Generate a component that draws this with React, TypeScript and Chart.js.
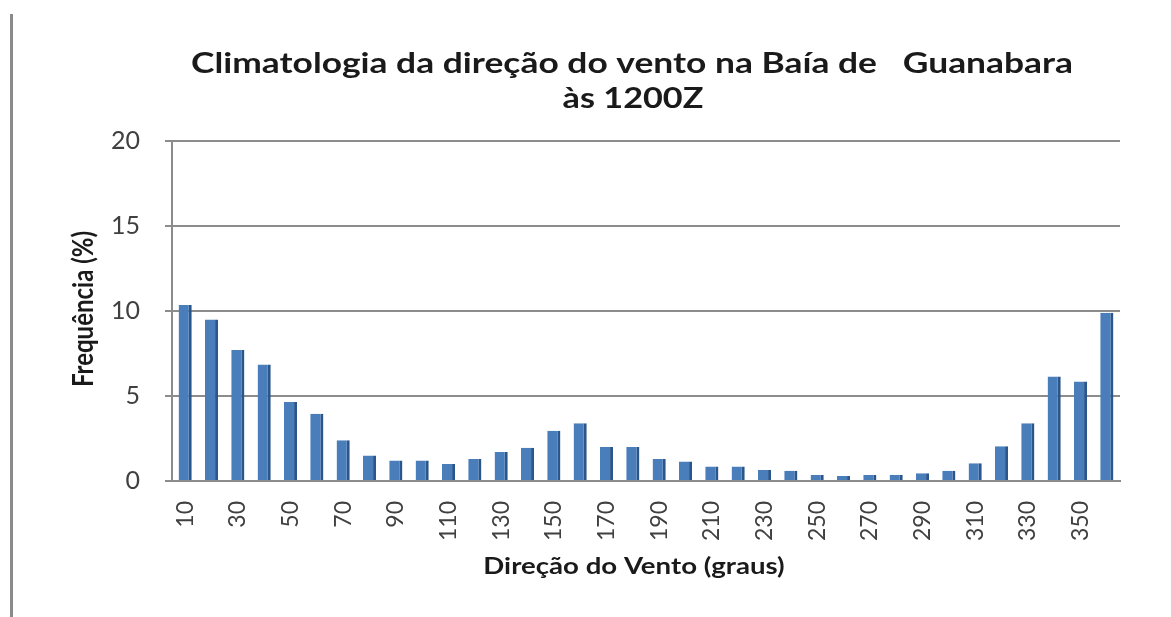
import React, { useEffect, useRef } from "react";
import { Chart, registerables } from "chart.js";

Chart.register(...registerables);

const directions = [
  "10", "20", "30", "40", "50", "60", "70", "80", "90", "100", "110", "120",
  "130", "140", "150", "160", "170", "180", "190", "200", "210", "220", "230", "240",
  "250", "260", "270", "280", "290", "300", "310", "320", "330", "340", "350", "360",
];

const frequencies = [
  10.35, 9.5, 7.7, 6.85, 4.65, 3.95, 2.4, 1.5, 1.2, 1.2, 1.0, 1.3,
  1.7, 1.95, 2.95, 3.4, 2.0, 2.0, 1.3, 1.15, 0.85, 0.85, 0.65, 0.6,
  0.35, 0.3, 0.35, 0.35, 0.45, 0.6, 1.05, 2.05, 3.4, 6.15, 5.85, 9.9,
];

const yMin = 0;
const yMax = 20;
const yStep = 5;

const titleLines = ["Climatologia da direção do vento na Baía de   Guanabara", "às 1200Z"];
const xTitle = "Direção do Vento (graus)";
const yTitle = "Frequência (%)";

const FONT = "Lato, 'Open Sans', 'DejaVu Sans', sans-serif";

function stretchedText(ctx: any, text: string, x: number, y: number, sx: number) {
  ctx.save();
  ctx.translate(x, y);
  ctx.scale(sx, 1);
  ctx.fillText(text, 0, 0);
  ctx.restore();
}

const textPlugin = {
  id: "customTexts",
  beforeDraw(chart: any) {
    const ctx = chart.ctx;
    ctx.save();
    ctx.fillStyle = "#ffffff";
    ctx.fillRect(0, 0, chart.width, chart.height);
    ctx.fillStyle = "#8a8a8a";
    ctx.fillRect(10, 14, 3, chart.height - 14);
    ctx.restore();
  },
  afterDraw(chart: any) {
    const ctx = chart.ctx;
    ctx.save();
    ctx.fillStyle = "#1a1a1a";
    ctx.textAlign = "center";
    ctx.textBaseline = "alphabetic";
    ctx.font = `bold 29px ${FONT}`;
    stretchedText(ctx, titleLines[0], 632, 73, 1.22);
    stretchedText(ctx, titleLines[1], 633, 108, 1.18);
    ctx.font = `bold 23px ${FONT}`;
    stretchedText(ctx, xTitle, 634, 574, 1.2);
    ctx.translate(93, 309);
    ctx.rotate(-Math.PI / 2);
    ctx.scale(1, 1.15);
    ctx.font = `bold 24px ${FONT}`;
    ctx.textBaseline = "alphabetic";
    ctx.fillText(yTitle, 0, 0);
    ctx.restore();
  },
};

export default function App() {
  const ref = useRef<HTMLCanvasElement | null>(null);

  useEffect(() => {
    if (!ref.current) return;
    const chart = new Chart(ref.current, {
      type: "bar",
      data: {
        labels: directions,
        datasets: [
          {
            data: frequencies,
            backgroundColor: "#4a7ebb",
            borderColor: "#2a568c",
            borderWidth: { top: 0, left: 0, right: 3, bottom: 0 },
            borderSkipped: false,
            categoryPercentage: 1,
            barPercentage: 0.5,
          },
        ],
      },
      options: {
        responsive: false,
        animation: false,
        layout: { padding: { top: 141, right: 51, left: 0, bottom: 0 } },
        plugins: {
          legend: { display: false },
          title: { display: false },
          tooltip: { enabled: false },
        },
        scales: {
          x: {
            grid: { display: false },
            border: { display: true, color: "#8c8c8c", width: 2 },
            ticks: {
              autoSkip: false,
              minRotation: 90,
              maxRotation: 90,
              padding: 12,
              color: "#404040",
              font: { family: FONT, size: 23 },
              callback: (_v: any, i: number) => (i % 2 === 0 ? directions[i] : ""),
            },
            afterFit: (s: any) => {
              s.height = 136;
            },
          },
          y: {
            min: yMin,
            max: yMax,
            ticks: {
              stepSize: yStep,
              padding: 25,
              color: "#404040",
              font: { family: FONT, size: 25 },
            },
            grid: {
              color: "#8c8c8c",
              lineWidth: 2,
              tickLength: 7,
              drawTicks: true,
            },
            border: { display: true, color: "#8c8c8c", width: 2 },
            afterFit: (s: any) => {
              s.width = 172;
            },
          },
        },
      },
      plugins: [textPlugin],
    });
    return () => chart.destroy();
  }, []);

  return (
    <div style={{ position: "fixed", left: 0, top: 0, width: 1171, height: 617, background: "#fff" }}>
      <canvas ref={ref} width={1171} height={617} style={{ display: "block" }} />
    </div>
  );
}
